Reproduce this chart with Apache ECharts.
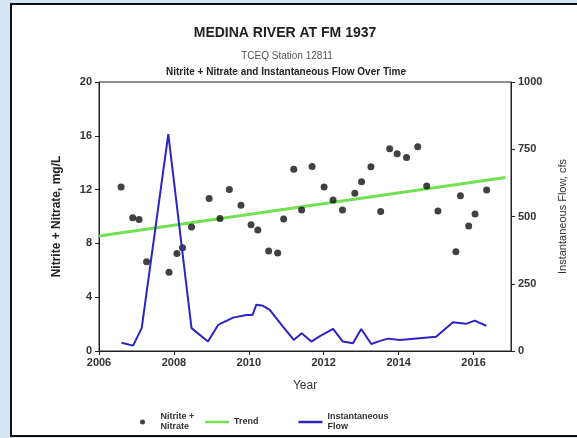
<!DOCTYPE html>
<html>
<head>
<meta charset="utf-8">
<style>
  html, body { margin: 0; padding: 0; }
  #main { width: 577px; height: 438px; }
</style>
<script src="https://cdn.jsdelivr.net/npm/echarts@6/dist/echarts.min.js"></script>
</head>
<body>
<div id="main"></div>
<script>
// nitrite + nitrate samples (year, mg/L)
var nitrateYears = [2006.59, 2006.90, 2007.07, 2007.27, 2007.87, 2008.08, 2008.23, 2008.47, 2008.94, 2009.23,
  2009.48, 2009.79, 2010.06, 2010.24, 2010.53, 2010.77, 2010.93, 2011.20, 2011.41, 2011.69,
  2012.01, 2012.25, 2012.50, 2012.83, 2013.01, 2013.26, 2013.52, 2013.76, 2013.96, 2014.21,
  2014.51, 2014.75, 2015.05, 2015.53, 2015.65, 2015.87, 2016.04, 2016.35];
var nitrateValues = [12.2, 9.91, 9.78, 6.63, 5.86, 7.25, 7.68, 9.22, 11.33, 9.86,
  12.0, 10.83, 9.39, 8.99, 7.43, 7.28, 9.81, 13.51, 10.48, 13.71,
  12.2, 11.23, 10.48, 11.72, 12.59, 13.69, 10.38, 15.03, 14.66, 14.38,
  15.18, 12.27, 10.41, 7.38, 11.55, 9.29, 10.19, 11.97];

// trend line end points
var trendYears = [2006, 2016.85];
var trendValues = [8.55, 12.9];

// instantaneous flow (year, cfs)
var flowYears = [2006.6, 2006.91, 2007.14, 2007.85, 2008.47, 2008.91, 2009.18, 2009.58, 2009.94, 2010.1,
  2010.2, 2010.38, 2010.56, 2010.91, 2011.2, 2011.41, 2011.67, 2011.9, 2012.25, 2012.51,
  2012.78, 2013.0, 2013.27, 2013.45, 2013.71, 2014.03, 2015.0, 2015.45, 2015.8, 2016.03, 2016.34];
var flowValues = [31, 20, 85, 806, 85, 35, 97, 124, 134, 134,
  172, 168, 153, 91, 41, 66, 35, 55, 82, 35,
  29, 82, 26, 35, 46, 41, 53, 107, 101, 113, 94];

function pairs(xs, ys) {
  var out = [];
  for (var i = 0; i < xs.length; i++) out.push([xs[i], ys[i]]);
  return out;
}

function plain(v) { return String(v); }

var font = 'Liberation Sans, Arial, sans-serif';
var myChart = echarts.init(document.getElementById('main'));

var option = {
  backgroundColor: '#d4e5f5',
  textStyle: { fontFamily: font },
  animation: false,
  graphic: [{
    type: 'rect',
    z: -10,
    shape: { x: 11, y: 4, width: 580, height: 432 },
    style: { fill: '#fff', stroke: '#111', lineWidth: 2 }
  }],
  title: [
    { text: 'MEDINA RIVER AT FM 1937', left: 280, top: 21, textAlign: 'center',
      textStyle: { fontSize: 14, fontWeight: 'bold', color: '#222', fontFamily: font } },
    { text: 'TCEQ Station 12811', left: 282, top: 46, textAlign: 'center',
      textStyle: { fontSize: 10, fontWeight: 'normal', color: '#555', fontFamily: font } },
    { text: 'Nitrite + Nitrate and Instantaneous Flow Over Time', left: 281, top: 62, textAlign: 'center',
      textStyle: { fontSize: 10, fontWeight: 'bold', color: '#222', fontFamily: font } }
  ],
  legend: [{
    data: [{ name: 'Nitrite +\nNitrate', icon: 'circle' }],
    left: 135, top: 407,
    itemWidth: 26, itemHeight: 5,
    textStyle: { fontSize: 9, fontWeight: 'bold', color: '#333', lineHeight: 10 }
  }, {
    data: [{ name: 'Trend', icon: 'rect' }, { name: 'Instantaneous\nFlow', icon: 'rect' }],
    left: 200, top: 407,
    itemWidth: 24, itemHeight: 2.5, itemGap: 40,
    textStyle: { fontSize: 9, fontWeight: 'bold', color: '#333', lineHeight: 10 }
  }],
  grid: {
    left: 99, right: 66, top: 82, bottom: 87,
    show: true, borderColor: '#222', borderWidth: 1
  },
  xAxis: {
    type: 'value', min: 2006, max: 2017, interval: 2,
    name: 'Year', nameLocation: 'middle', nameGap: 29,
    nameTextStyle: { fontSize: 12, color: '#333' },
    axisLine: { lineStyle: { color: '#222' } },
    axisTick: { length: 4, lineStyle: { color: '#222' } },
    axisLabel: { showMaxLabel: false, formatter: plain, fontSize: 11, fontWeight: 'bold', color: '#333', margin: 6 },
    splitLine: { show: false }
  },
  yAxis: [{
    type: 'value', min: 0, max: 20, interval: 4,
    name: 'Nitrite + Nitrate, mg/L', nameLocation: 'middle', nameGap: 36,
    nameTextStyle: { fontSize: 12, fontWeight: 'bold', color: '#222' },
    axisLine: { show: true, lineStyle: { color: '#222' } },
    axisTick: { show: true, length: 4, lineStyle: { color: '#222' } },
    axisLabel: { formatter: plain, fontSize: 11, fontWeight: 'bold', color: '#333', margin: 7 },
    splitLine: { show: false }
  }, {
    type: 'value', min: 0, max: 1000, interval: 250, position: 'right',
    name: 'Instantaneous Flow, cfs', nameLocation: 'middle', nameGap: 46,
    nameTextStyle: { fontSize: 11, color: '#333' },
    axisLine: { show: true, lineStyle: { color: '#222' } },
    axisTick: { show: true, length: 4, lineStyle: { color: '#222' } },
    axisLabel: { formatter: plain, fontSize: 11, fontWeight: 'bold', color: '#333', margin: 7 },
    splitLine: { show: false }
  }],
  series: [{
    name: 'Nitrite +\nNitrate',
    type: 'scatter',
    data: pairs(nitrateYears, nitrateValues),
    symbol: 'circle', symbolSize: 7,
    itemStyle: { color: '#111' },
    z: 3
  }, {
    name: 'Trend',
    type: 'line',
    data: pairs(trendYears, trendValues),
    symbol: 'none',
    lineStyle: { color: '#72e052', width: 3 },
    itemStyle: { color: '#72e052' },
    z: 2
  }, {
    name: 'Instantaneous\nFlow',
    type: 'line',
    yAxisIndex: 1,
    data: pairs(flowYears, flowValues),
    symbol: 'none',
    lineStyle: { color: '#2b24c2', width: 2 },
    itemStyle: { color: '#2b24c2' },
    z: 4
  }]
};
myChart.setOption(option);
</script>
</body>
</html>
